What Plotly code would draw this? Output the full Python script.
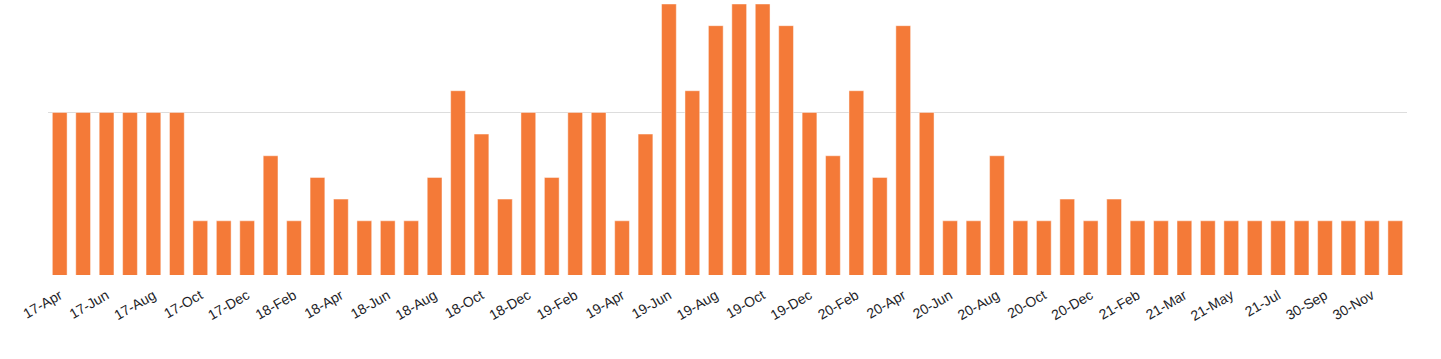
import plotly.graph_objects as go

categories = [
    "17-Apr", "17-May", "17-Jun", "17-Jul", "17-Aug", "17-Sep", "17-Oct", "17-Nov", "17-Dec",
    "18-Jan", "18-Feb", "18-Mar", "18-Apr", "18-May", "18-Jun", "18-Jul", "18-Aug", "18-Sep",
    "18-Oct", "18-Nov", "18-Dec", "19-Jan", "19-Feb", "19-Mar", "19-Apr", "19-May", "19-Jun",
    "19-Jul", "19-Aug", "19-Sep", "19-Oct", "19-Nov", "19-Dec", "20-Jan", "20-Feb", "20-Mar",
    "20-Apr", "20-May", "20-Jun", "20-Jul", "20-Aug", "20-Sep", "20-Oct", "20-Nov", "20-Dec",
    "21-Jan", "21-Feb", "28-Feb", "21-Mar", "21-Apr", "21-May", "21-Jun", "21-Jul", "21-Aug",
    "30-Sep", "30-Oct", "30-Nov", "30-Dec",
]
values = [
    8, 8, 8, 8, 8, 8, 3, 3, 3,
    6, 3, 5, 4, 3, 3, 3, 5, 9,
    7, 4, 8, 5, 8, 8, 3, 7, 13,
    9, 12, 13, 13, 12, 8, 6, 9, 5,
    12, 8, 3, 3, 6, 3, 3, 4, 3,
    4, 3, 3, 3, 3, 3, 3, 3, 3,
    3, 3, 3, 3,
]
tick_labels = categories[::2]

fig = go.Figure(
    go.Bar(
        x=categories,
        y=values,
        marker=dict(color="#F47A38", line=dict(color="rgba(255,255,255,0.45)", width=1)),
        hoverinfo="x+y",
    )
)

fig.update_layout(
    width=1441,
    height=359,
    margin=dict(l=48, r=34, t=4, b=84),
    paper_bgcolor="white",
    plot_bgcolor="white",
    bargap=0.37,
    showlegend=False,
    font=dict(family="Liberation Sans, Arial, sans-serif", size=14, color="#222222"),
)
fig.update_xaxes(
    type="category",
    tickmode="array",
    tickvals=tick_labels,
    ticktext=tick_labels,
    tickangle=-30,
    showgrid=False,
    showline=False,
    ticks="outside",
    ticklen=6,
    tickcolor="rgba(0,0,0,0)",
    automargin=False,
    tickfont=dict(size=14, color="#1e1e28"),
)
fig.update_yaxes(
    range=[0.5, 13],
    tickmode="array",
    tickvals=[8],
    showticklabels=False,
    showgrid=True,
    gridcolor="#dddddd",
    gridwidth=1,
    zeroline=False,
    showline=False,
    automargin=False,
)

fig.write_html(
    "out.html",
    config={"displayModeBar": False},
    post_script="document.body.style.margin='0px';document.body.style.overflow='hidden';",
)
